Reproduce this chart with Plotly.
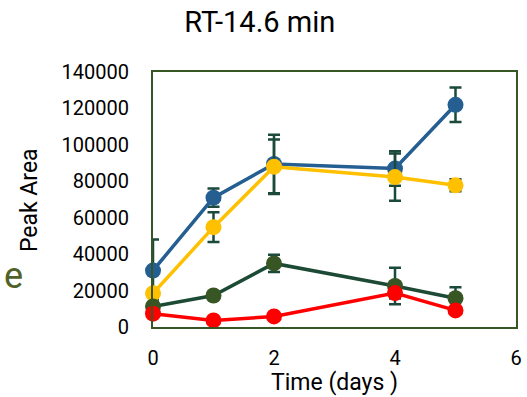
import plotly.graph_objects as go

days = [0, 1, 2, 4, 5]

blue_vals = [31000, 71000, 89500, 87000, 122000]
blue_err = [17000, 5000, 16000, 9500, 9500]

yellow_vals = [18500, 54800, 88000, 82300, 77800]
yellow_err = [3000, 8200, 15000, 13000, 3300]

green_vals = [11300, 17300, 34900, 22500, 15800]
green_err = [2000, 2000, 4700, 10000, 6000]

red_vals = [7300, 3600, 5800, 18600, 9100]
red_err = [1500, 1000, 1000, 3000, 1500]

title_text = "RT-14.6 min"
x_title = "Time (days )"
y_title = "Peak Area"

ERR_COLOR = "#1B4A3C"

series = [
    (blue_vals, blue_err, "#255E91", "#255E91"),
    (yellow_vals, yellow_err, "#FFC000", "#FFC000"),
    (green_vals, green_err, "#1C4A35", "#375623"),
    (red_vals, red_err, "#FF0000", "#FF0000"),
]

fig = go.Figure()
for vals, err, lcol, mcol in series:
    fig.add_trace(go.Scatter(
        x=days, y=vals, mode="lines+markers",
        line=dict(color=lcol, width=3.5),
        marker=dict(color=mcol, size=16),
        error_y=dict(type="data", array=err, visible=True,
                     color=ERR_COLOR, thickness=2.5, width=6),
        cliponaxis=False, showlegend=False, hoverinfo="skip",
    ))

fig.update_layout(
    width=527, height=397,
    margin=dict(l=153, r=5, t=72, b=70),
    paper_bgcolor="white", plot_bgcolor="white",
    font=dict(family="Roboto", color="black", size=20),
    title=dict(text=title_text, x=0.493, xref="container", xanchor="center",
               y=1 - 22 / 397, yref="container", yanchor="middle",
               font=dict(size=29, color="black")),
    showlegend=False,
)
fig.update_xaxes(range=[0, 6], dtick=2, tick0=0, showgrid=False, zeroline=False,
                 showline=True, linecolor="#375623", linewidth=2, mirror=True,
                 ticks="", ticklabelstandoff=12, tickfont=dict(size=20))
fig.update_yaxes(range=[0, 140000], dtick=20000, tick0=0, showgrid=False,
                 zeroline=False, tickformat="d",
                 showline=True, linecolor="#375623", linewidth=2, mirror=True,
                 ticks="", ticklabelstandoff=18, tickfont=dict(size=20))

fig.add_annotation(text=x_title, xref="paper", yref="paper", x=0.5, y=-0.218,
                   xanchor="center", yanchor="middle", showarrow=False,
                   font=dict(size=23, color="black"))
fig.add_annotation(text=y_title, xref="paper", yref="paper", x=-0.342, y=0.497,
                   xanchor="center", yanchor="middle", showarrow=False, textangle=-90,
                   font=dict(size=23, color="black"))
fig.add_annotation(text="e", xref="paper", yref="paper", x=-0.385, y=0.199,
                   xanchor="center", yanchor="middle", showarrow=False,
                   font=dict(size=36, color="#4F6228"))

fig.write_html(
    "out.html",
    config={"displayModeBar": False},
    post_script="document.body.style.margin='0px';document.body.style.overflow='hidden';",
)
